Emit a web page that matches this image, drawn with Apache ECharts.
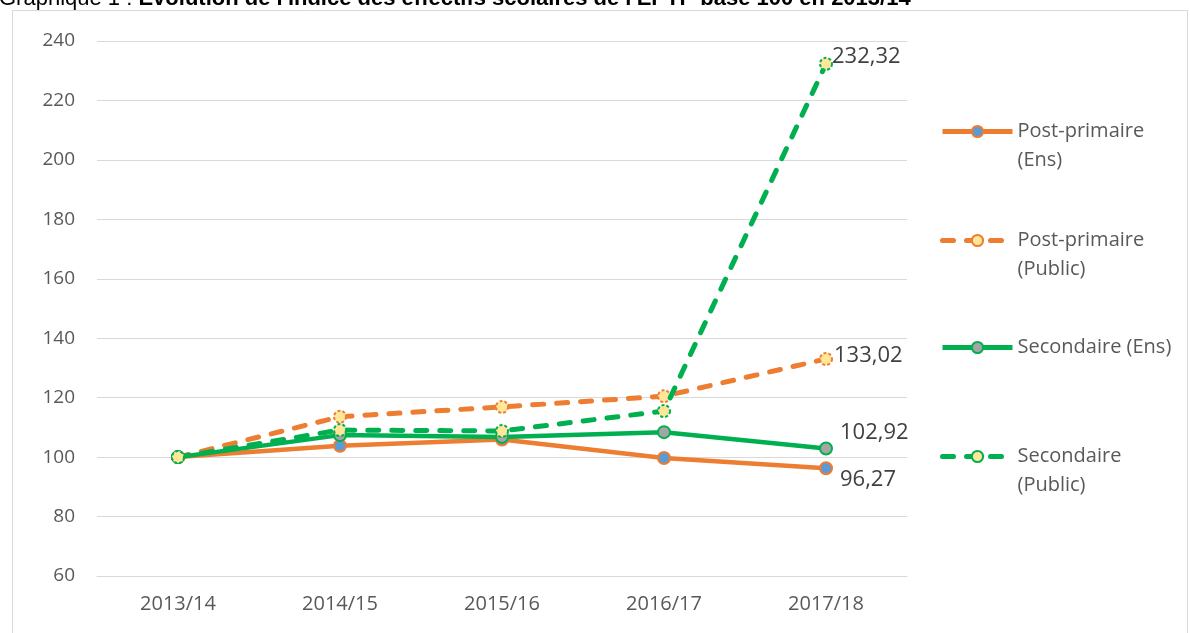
<!DOCTYPE html>
<html><head><meta charset="utf-8">
<script src="https://cdn.jsdelivr.net/npm/echarts@6/dist/echarts.min.js"></script>
<style>html,body{margin:0;padding:0;background:#fff}#c{width:1190px;height:633px}</style>
</head><body><div id="c"></div>
<script>
const categories = ['2013/14','2014/15','2015/16','2016/17','2017/18'];
const postPrimaireEns = [100, 103.8, 105.9, 99.7, 96.27];
const postPrimairePublic = [100, 113.6, 116.9, 120.5, 133.02];
const secondaireEns = [100, 107.4, 106.8, 108.4, 102.92];
const secondairePublic = [100, 109.1, 108.8, 115.5, 232.32];
const seriesNames = ['Post-primaire\n(Ens)','Post-primaire\n(Public)','Secondaire (Ens)','Secondaire\n(Public)'];
const yTicks = [60, 240, 20];

const ORANGE = '#ED7D31', GREEN = '#00B050';
const DASH = [11, 13];
const fmt = v => String(v).replace('.', ',');
const font = '"Open Sans", Lato, sans-serif';

function lastLabel(arr, offset){
  return arr.map((v,i)=> i===arr.length-1 ? {value:v, label:{show:true, position:'right', offset:offset, formatter:p=>fmt(p.value), color:'#404040', fontSize:22, fontFamily:font}} : v);
}

const chart = echarts.init(document.getElementById('c'));
const legendBase = (name, top) => ({
  data:[name], left:940, top:top, orient:'vertical', itemWidth:70, itemHeight:14, padding:0, itemGap:6,
  formatter: n => n.includes('\n') ? '\n' + n : n,
  lineStyle:{width:5},
  textStyle:{fontSize:20, color:'#595959', fontFamily:font, lineHeight:29},
  selectedMode:false
});
chart.setOption({
  animation:false,
  graphic:[
    {type:'rect', shape:{x:12.5, y:10.5, width:1175, height:700}, style:{fill:'none', stroke:'#D9D9D9', lineWidth:1}},
    {type:'text', left:-1, top:-12, style:{text:'{n|Graphique 1 : }{b|Évolution de l\'indice des effectifs scolaires de l\'EPTP base 100 en 2013/14}', rich:{n:{fontSize:22, fontFamily:'"Liberation Sans", Arial', fill:'#000'}, b:{fontSize:22, fontWeight:'bold', fontFamily:'"Liberation Sans", Arial', fill:'#000'}}}}
  ],
  grid:{left:97, right:283, top:41, bottom:57},
  legend:[
    legendBase(seriesNames[0], 117 - 29),
    legendBase(seriesNames[1], 226 - 29),
    legendBase(seriesNames[2], 333),
    legendBase(seriesNames[3], 442 - 29)
  ],
  xAxis:{type:'category', data:categories, boundaryGap:true,
    axisLine:{lineStyle:{color:'#D9D9D9', width:1}}, axisTick:{show:false},
    axisLabel:{color:'#595959', fontSize:20, fontFamily:font, margin:18}},
  yAxis:{type:'value', min:yTicks[0], max:yTicks[1], interval:yTicks[2],
    axisLine:{show:false}, axisTick:{show:false},
    splitLine:{lineStyle:{color:'#D9D9D9', width:1}},
    axisLabel:{color:'#595959', fontSize:19, fontFamily:font, margin:22}},
  series:[
    {name:seriesNames[0], type:'line', data:lastLabel(postPrimaireEns,[2,12]), symbol:'circle', symbolSize:12,
      lineStyle:{color:ORANGE, width:4.5}, itemStyle:{color:'#5B9BD5', borderColor:ORANGE, borderWidth:2}, z:4},
    {name:seriesNames[1], type:'line', data:lastLabel(postPrimairePublic,[-4,-3]), symbol:'circle', symbolSize:12,
      lineStyle:{color:ORANGE, width:5, type:DASH, cap:'round'}, itemStyle:{color:'#FFE699', borderColor:ORANGE, borderWidth:2, borderType:[3,2]}, z:3},
    {name:seriesNames[2], type:'line', data:lastLabel(secondaireEns,[2,-16]), symbol:'circle', symbolSize:12,
      lineStyle:{color:GREEN, width:4.5}, itemStyle:{color:'#A5A5A5', borderColor:GREEN, borderWidth:2}, z:5},
    {name:seriesNames[3], type:'line', data:lastLabel(secondairePublic,[-6,-7]), symbol:'circle', symbolSize:12,
      lineStyle:{color:GREEN, width:5, type:DASH, cap:'round'}, itemStyle:{color:'#FFE699', borderColor:GREEN, borderWidth:2, borderType:[3,2]}, z:6}
  ]
});
</script></body></html>
